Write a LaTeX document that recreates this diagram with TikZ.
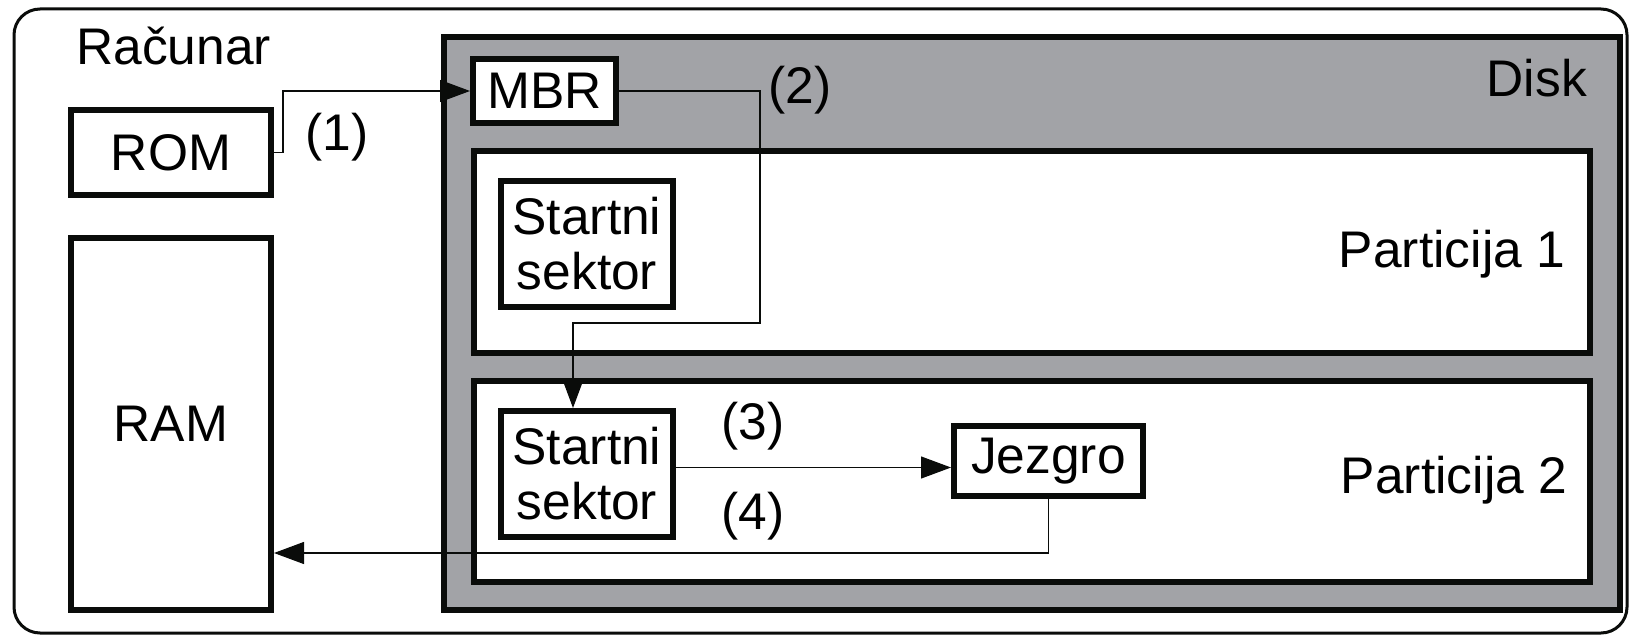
\documentclass[tikz,border=0pt]{standalone}
\usepackage{fontspec}
\setmainfont{Liberation Sans}
\usepackage{tikz}
\usetikzlibrary{calc,arrows.meta}
\definecolor{ink}{HTML}{0A0C0A}
\definecolor{diskgray}{HTML}{A2A3A7}
\tikzset{
  hostFrame/.style={draw=ink, line width=3pt, rounded corners=26pt},
  diskBox/.style={draw=ink, fill=diskgray, line width=6pt, inner sep=0pt},
  boxEdge/.style={draw=ink, fill=white, line width=6pt, inner sep=0pt, align=center, font=\fontsize{51.5}{55}\selectfont},
  lbl/.style={inner sep=0pt, font=\fontsize{51.5}{55}\selectfont},
  flow/.style={draw=ink, line width=1.2pt, -{Triangle[length=30pt,width=22pt]}},
}

\begin{document}
\begin{tikzpicture}[x=1pt, y=-1pt]
  \useasboundingbox (0,0) rectangle (1629,636);
  \draw[hostFrame] (14,9) rectangle (1627,633);
  \node[lbl, anchor=base west] (host) at (76,65) {Računar};

  \node[boxEdge, minimum width=200pt, minimum height=85pt]  (rom) at (171,152.5) {ROM};
  \node[boxEdge, minimum width=200pt, minimum height=372pt] (ram) at (171,424) {RAM};

  % disk with its two partitions
  \node[diskBox, minimum width=1176pt, minimum height=573pt] (disk) at (1032,323.5) {};
  \node[lbl, anchor=base east] (diskLbl) at (1587,97) {Disk};
  \node[boxEdge, minimum width=143pt, minimum height=64pt] (mbr) at (544.5,91) {MBR};
  \node[boxEdge, minimum width=1116pt, minimum height=202pt] (part1) at (1032,252) {};
  \node[boxEdge, minimum width=1116pt, minimum height=201pt] (part2) at (1032,481.5) {};
  \node[lbl, anchor=base] (part1Lbl) at (1452,267) {Particija 1};
  \node[lbl, anchor=base] (part2Lbl) at (1454,493) {Particija 2};
  \node[boxEdge, minimum width=172pt, minimum height=126pt] (ss1) at (587,244) {Startni\\sektor};
  \node[boxEdge, minimum width=172pt, minimum height=126pt] (ss2) at (587,474) {Startni\\sektor};
  \node[boxEdge, minimum width=189pt, minimum height=70pt] (jezgro) at (1048.5,461) {Jezgro};

  \node[lbl] (step1) at (337,137) {(1)};
  \node[lbl] (step2) at (800,90)  {(2)};
  \node[lbl] (step3) at (753,426) {(3)};
  \node[lbl] (step4) at (753,516) {(4)};

  % boot chain
  \draw[flow] (rom.east) -- ++(9,0) |- (mbr.west);
  \coordinate (turn2) at (760,323);
  \coordinate (drop2) at (573,323);
  \draw[flow] (mbr.east) -| (turn2) -- (drop2) -- (drop2 |- ss2.north);
  \coordinate (mid3) at ($(ss2.east)!0.5!(jezgro.west)$);
  \draw[flow] (ss2.east |- mid3) -- (jezgro.west |- mid3);
  \coordinate (turn4) at (1048.5,553);
  \draw[flow] (jezgro.south) -- (turn4) -- (turn4 -| ram.east);
\end{tikzpicture}
\end{document}
